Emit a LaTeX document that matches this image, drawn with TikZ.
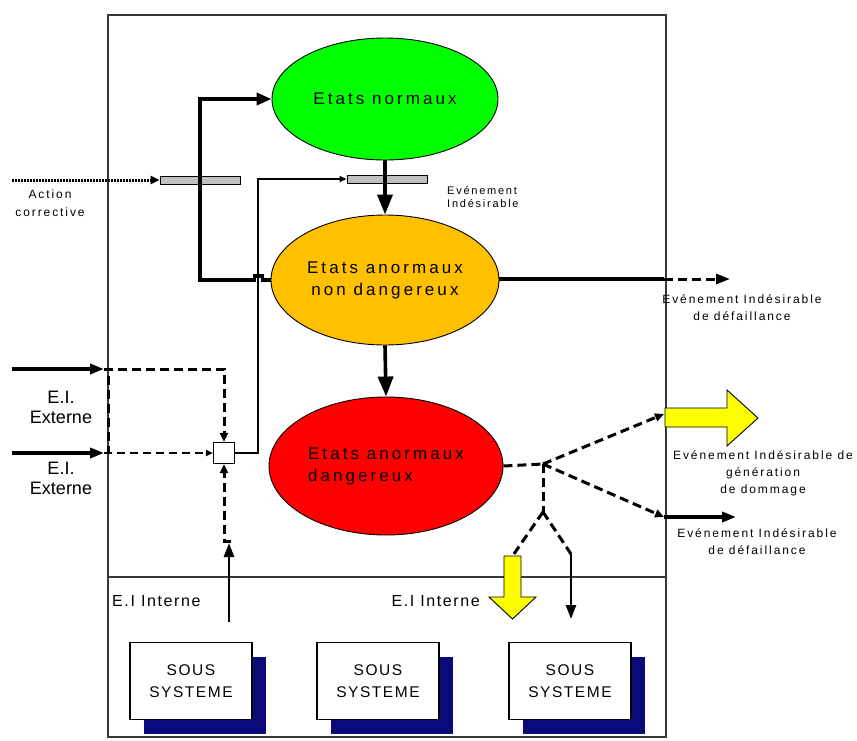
\documentclass[tikz,border=0pt]{standalone}
\usepackage{fontspec}
\setmainfont{Liberation Sans}
\newfontfamily\spfont[LetterSpace=18]{Liberation Sans}
\newfontfamily\smfont[LetterSpace=16]{Liberation Sans}
\newfontfamily\mdfont[LetterSpace=10]{Liberation Sans}
\usetikzlibrary{shapes.geometric,arrows.meta,shadows}
\definecolor{cgreen}{RGB}{0,255,0}
\definecolor{corange}{RGB}{255,192,0}
\definecolor{cred}{RGB}{255,0,0}
\definecolor{cyellow}{RGB}{255,255,0}
\definecolor{cnavy}{RGB}{10,10,125}
\definecolor{cbar}{RGB}{192,192,192}
\definecolor{cframe}{RGB}{55,55,55}
\begin{document}
\begin{tikzpicture}[x=1pt,y=-1pt,
  state/.style={ellipse, draw=black, line width=0.9pt, inner sep=0pt, font=\spfont\fontsize{17}{22}\selectfont, align=center},
  bar/.style={draw=black, fill=cbar, line width=0.9pt, minimum width=80pt, minimum height=8pt, inner sep=0pt},
  frame/.style={draw=cframe, line width=1.4pt},
  mainline/.style={line width=3.6pt},
  thinline/.style={line width=1.6pt},
  dashline/.style={line width=3pt, dash pattern=on 9pt off 5pt},
  thindash/.style={line width=1.8pt, dash pattern=on 8pt off 5pt},
  dotline/.style={line width=3pt, dash pattern=on 1.8pt off 1.2pt},
  lbl/.style={font=\smfont\fontsize{12}{17}\selectfont, align=center, inner sep=0pt},
  extl/.style={font=\fontsize{18}{20}\selectfont, align=center, inner sep=0pt},
  intl/.style={font=\mdfont\fontsize{16}{18}\selectfont, inner sep=0pt},
  subbox/.style={draw=black, fill=white, line width=1.1pt, minimum width=122pt, minimum height=77pt, inner sep=0pt,
     align=center, font=\mdfont\fontsize{15.5}{22}\selectfont,
     drop shadow={shadow xshift=14pt, shadow yshift=-14pt, fill=cnavy, opacity=1}},
  bigtip/.style={-{Triangle[length=20pt,width=15pt]}},
  midtip/.style={-{Triangle[length=14pt,width=10pt]}},
  smalltip/.style={-{Triangle[length=9pt,width=8pt]}},
  tinytip/.style={-{Triangle[length=7pt,width=6pt]}}
]
\useasboundingbox (0,0) rectangle (857,740);

% frames
\draw[frame] (108,15) rectangle (666,577);
\draw[frame] (108,577) rectangle (666,737);

% states
\node[state, fill=cgreen, minimum width=226pt, minimum height=122pt] (normal) at (385,99) {Etats normaux};
\node[state, fill=corange, minimum width=228pt, minimum height=130pt] (anorm) at (385,280) {Etats anormaux\\non dangereux};
\node[state, fill=cred, minimum width=234pt, minimum height=138pt, align=left] (danger) at (386,466) {Etats anormaux\\dangereux};

% bars and mixing box
\node[bar] (bar1) at (200,180) {};
\node[bar] (bar2) at (387,179) {};
\node[draw=black, fill=white, line width=1.1pt, minimum size=21pt, inner sep=0pt] (mix) at (224,453) {};

% sub-systems
\node[subbox] (s1) at (191,681) {SOUS\\SYSTEME};
\node[subbox] (s2) at (378,681) {SOUS\\SYSTEME};
\node[subbox] (s3) at (570,681) {SOUS\\SYSTEME};

% yellow arrows
\draw[fill=cyellow, line width=0.9pt] (665,408) -- (727,408) -- (727,390) -- (758,418) -- (727,446) -- (727,427) -- (665,427) -- cycle;
\draw[fill=cyellow, line width=0.9pt] (504,556) -- (521,556) -- (521,597) -- (536,597) -- (512.5,619) -- (489,597) -- (504,597) -- cycle;
\coordinate (yr) at (664,414);
\coordinate (yd) at (512.5,556);

% action corrective
\coordinate (ac) at (12,180);
\draw[dotline, smalltip] (ac) -- (bar1.west);

% loop back from abnormal states to normal states
\draw[mainline, -{Triangle[length=15pt,width=12pt]}] (anorm.west) -- ++(-8,0) -- ++(0,-4) -- ++(-8,0) -- ++(0,4)
   -- (bar1.center |- anorm.west) -- (bar1.center |- normal.west) -- (normal.west);

% mix -> bar2
\draw[thinline, tinytip] (mix.east) -- ++(23,0) |- (bar2.west);

% state transitions
\draw[mainline, bigtip] (normal.south) -- (anorm.north);
\draw[mainline, bigtip] (anorm.south) -- (danger.north);

% orange -> right
\coordinate (edge1) at (664,279);
\coordinate (out1) at (730,279);
\draw[mainline] (anorm.east |- edge1) -- (edge1);
\draw[dashline, midtip] (edge1) -- (out1);

% E.I. externe
\coordinate (ext1) at (12,369);
\coordinate (ext1e) at (104,369);
\coordinate (ext2) at (12,453);
\coordinate (ext2e) at (104,453);
\coordinate (v1) at (108,376);
\coordinate (v2) at (108,453);
\draw[mainline, midtip] (ext1) -- (ext1e);
\draw[dashline, smalltip] (ext1e) -| (mix.north);
\draw[mainline, midtip] (ext2) -- (ext2e);
\draw[thindash, tinytip] (ext2e) -- (mix.west);
\draw[dashline] (v1) -- (v2);

% E.I. interne up
\coordinate (int1) at (229,622);
\coordinate (int1t) at (229,543);
\draw[line width=2.6pt, midtip] (int1) -- (int1t);
\draw[dashline, smalltip] (int1t) -- ++(0,-2) -- ++(-5,0) -- (mix.south);

% red -> outputs
\coordinate (jn) at (543,464);
\coordinate (jn2) at (543,512);
\coordinate (edge2) at (664,517);
\coordinate (out2) at (736,517);
\coordinate (kb) at (571,554);
\coordinate (kbt) at (571,619);
\draw[dashline] (danger.east) -- (jn);
\draw[dashline, smalltip] (jn) -- (yr);
\draw[dashline, smalltip] (jn) -- (edge2);
\draw[mainline, midtip] (edge2) -- (out2);
\draw[dashline] (jn) -- (jn2);
\draw[dashline] (jn2) -- (yd);
\draw[dashline] (jn2) -- (kb);
\draw[line width=2.6pt, midtip] (kb) -- (kbt);

% labels
\node[lbl, font=\smfont\fontsize{12}{18}\selectfont] (acl) at (50,203) {Action\\corrective};
\node[lbl, align=left, anchor=west, font=\smfont\fontsize{11}{13.5}\selectfont] (evl) at (447,197) {Evénement\\Indésirable};
\node[lbl] (f1) at (742,308) {Evénement Indésirable\\de défaillance};
\node[lbl] (dm) at (763,473) {Evénement Indésirable de\\génération\\de dommage};
\node[lbl] (f2) at (757,542) {Evénement Indésirable\\de défaillance};
\node[extl] (e1) at (61,407) {E.I.\\Externe};
\node[extl] (e2) at (61,478) {E.I.\\Externe};
\node[intl, anchor=west] (i1) at (112,601) {E.I Interne};
\node[intl, anchor=east] (i2) at (480,601) {E.I Interne};
\end{tikzpicture}
\end{document}
